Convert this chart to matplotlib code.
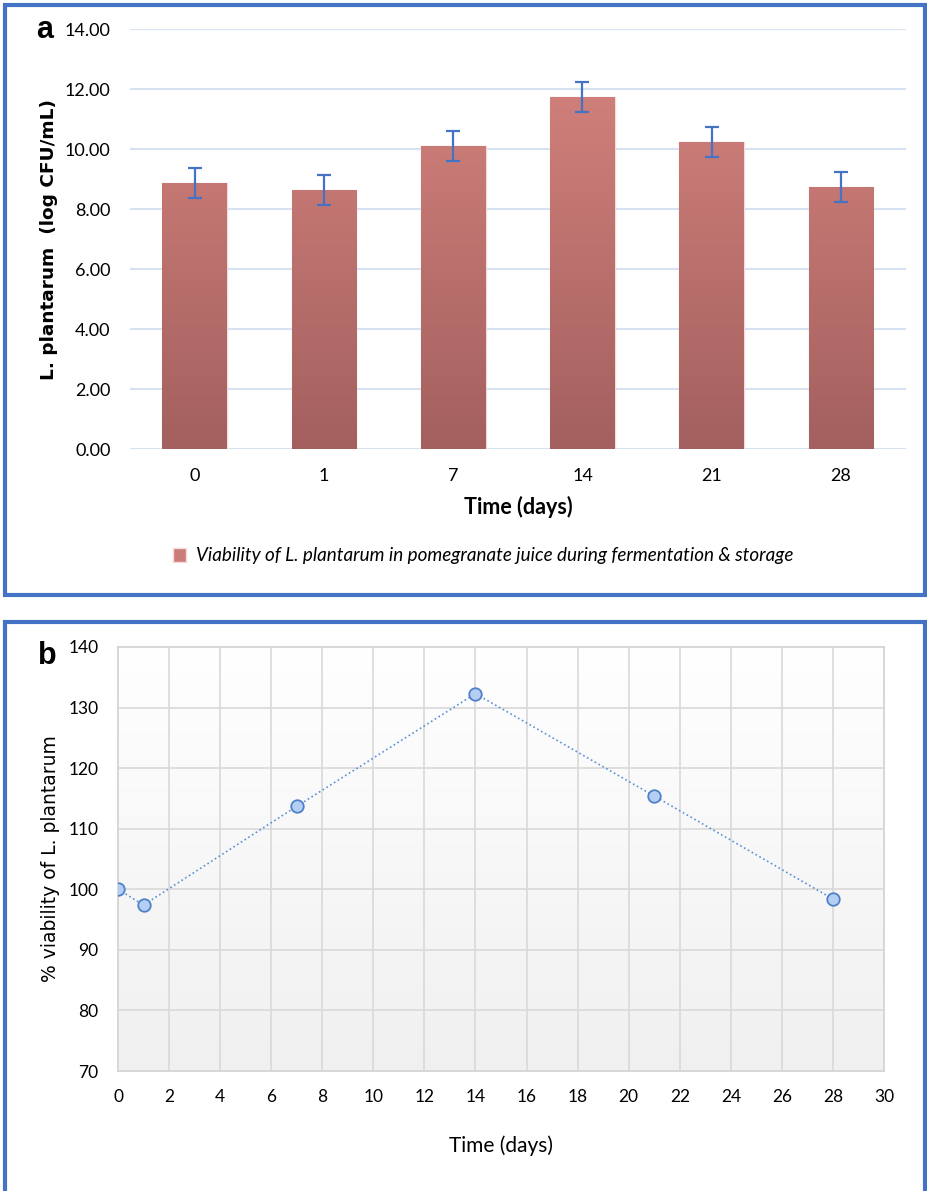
import numpy as np
import matplotlib
matplotlib.use("Agg")
import matplotlib.pyplot as plt
from matplotlib.patches import Rectangle
from matplotlib.colors import LinearSegmentedColormap

# ---- data ----
days_a = ["0", "1", "7", "14", "21", "28"]
log_cfu = [8.87, 8.64, 10.09, 11.74, 10.24, 8.72]
log_err = [0.5, 0.5, 0.5, 0.5, 0.5, 0.5]

days_b = [0, 1, 7, 14, 21, 28]
viability_pct = [100.0, 97.4, 113.7, 132.3, 115.4, 98.4]

W, H = 927, 1191
fig = plt.figure(figsize=(W / 100, H / 100), dpi=100)
fig.patch.set_facecolor("white")

FONT = ["Lato", "DejaVu Sans"]
BLUE = "#4472C4"

def fx(px):
    return px / W

def fy(py):
    return 1 - py / H

# ---- panel frames ----
fig.patches.append(Rectangle((fx(5), fy(595)), fx(920), 590 / H, transform=fig.transFigure,
                             fill=False, edgecolor=BLUE, lw=3, zorder=0))
fig.patches.append(Rectangle((fx(5), fy(1200)), fx(920), 578 / H, transform=fig.transFigure,
                             fill=False, edgecolor=BLUE, lw=3, zorder=0))

# ---- panel a ----
axa = fig.add_axes([fx(130), fy(449), fx(905.7 - 130), (449 - 29) / H])
x = np.arange(len(days_a))
bars = axa.bar(x, log_cfu, width=0.5, color="#cc7c78", edgecolor="#f3dcdb", linewidth=1.0, zorder=2,
               label="Viability of L. plantarum in pomegranate juice during fermentation & storage")
cmap = LinearSegmentedColormap.from_list("g", ["#a3605f", "#d8857f"])
grad = np.linspace(0, 1, 256).reshape(-1, 1)
for b in bars:
    im = axa.imshow(grad, cmap=cmap, aspect="auto", origin="lower",
                    extent=[b.get_x(), b.get_x() + b.get_width(), 0, 14], zorder=2.5)
    im.set_clip_path(b)
axa.errorbar(x, log_cfu, yerr=log_err, fmt="none", ecolor=BLUE, elinewidth=1.6, capsize=5,
             capthick=1.6, zorder=3)
axa.set_xlim(-0.5, 5.5)
axa.set_ylim(0, 14)
axa.set_yticks(np.arange(0, 14.01, 2))
axa.set_yticklabels([f"{v:.2f}" for v in np.arange(0, 14.01, 2)])
axa.set_xticks(x)
axa.set_xticklabels(days_a)
axa.grid(axis="y", color="#d6e1f2", lw=1.5, zorder=0)
axa.set_axisbelow(True)
for s in axa.spines.values():
    s.set_visible(False)
axa.tick_params(axis="both", length=0, labelsize=13)
axa.tick_params(axis="y", pad=14)
axa.tick_params(axis="x", pad=14)
for lab in axa.get_xticklabels() + axa.get_yticklabels():
    lab.set_fontfamily(FONT)
axa.set_xlabel("Time (days)", fontsize=15.5, fontweight="bold", family=FONT, labelpad=8)
axa.set_ylabel("L. plantarum  (log CFU/mL)", fontsize=13.3, fontweight="bold",
               family=["DejaVu Sans"], labelpad=5)
leg = axa.legend(loc="center", bbox_to_anchor=(fx(483), fy(556)), bbox_transform=fig.transFigure,
                 frameon=False, prop={"family": FONT, "style": "italic", "size": 13.6},
                 handlelength=0.7, handleheight=0.7, handletextpad=0.5)
fig.text(fx(45), fy(30), "a", fontsize=22, fontweight="bold", family=["Liberation Sans", "DejaVu Sans"],
         ha="center", va="center")

# ---- panel b ----
axb = fig.add_axes([fx(118), fy(1071), fx(884 - 118), (1071 - 647) / H])
bg = np.linspace(0, 1, 256).reshape(-1, 1)
bgmap = LinearSegmentedColormap.from_list("bg", ["#f0f0f0", "#ffffff"])
axb.imshow(bg, cmap=bgmap, aspect="auto", origin="lower", extent=[0, 30, 70, 140], zorder=0)
axb.plot(days_b, viability_pct, linestyle=":", color="#5b8fd6", lw=1.2, marker="o", markersize=9,
         markerfacecolor="#b4cff3", markeredgecolor="#4f81c7", markeredgewidth=1.3, zorder=3)
axb.set_xlim(0, 30)
axb.set_ylim(70, 140)
axb.set_xticks(np.arange(0, 31, 2))
axb.set_yticks(np.arange(70, 141, 10))
axb.grid(True, color="#d9d9d9", lw=1.2, zorder=1)
axb.set_axisbelow(False)
for s in axb.spines.values():
    s.set_color("#d0d0d0")
    s.set_linewidth(1.2)
axb.tick_params(axis="both", length=0, labelsize=12.5)
axb.tick_params(axis="y", pad=14)
axb.tick_params(axis="x", pad=13)
for lab in axb.get_xticklabels() + axb.get_yticklabels():
    lab.set_fontfamily(FONT)
axb.set_xlabel("Time (days)", fontsize=15, family=FONT, labelpad=22)
axb.set_ylabel("% viability of L. plantarum", fontsize=13.5, family=["DejaVu Sans"], labelpad=6)
fig.text(fx(47), fy(656), "b", fontsize=22, fontweight="bold", family=["Liberation Sans", "DejaVu Sans"],
         ha="center", va="center")

fig.savefig("out.png", dpi=100)
